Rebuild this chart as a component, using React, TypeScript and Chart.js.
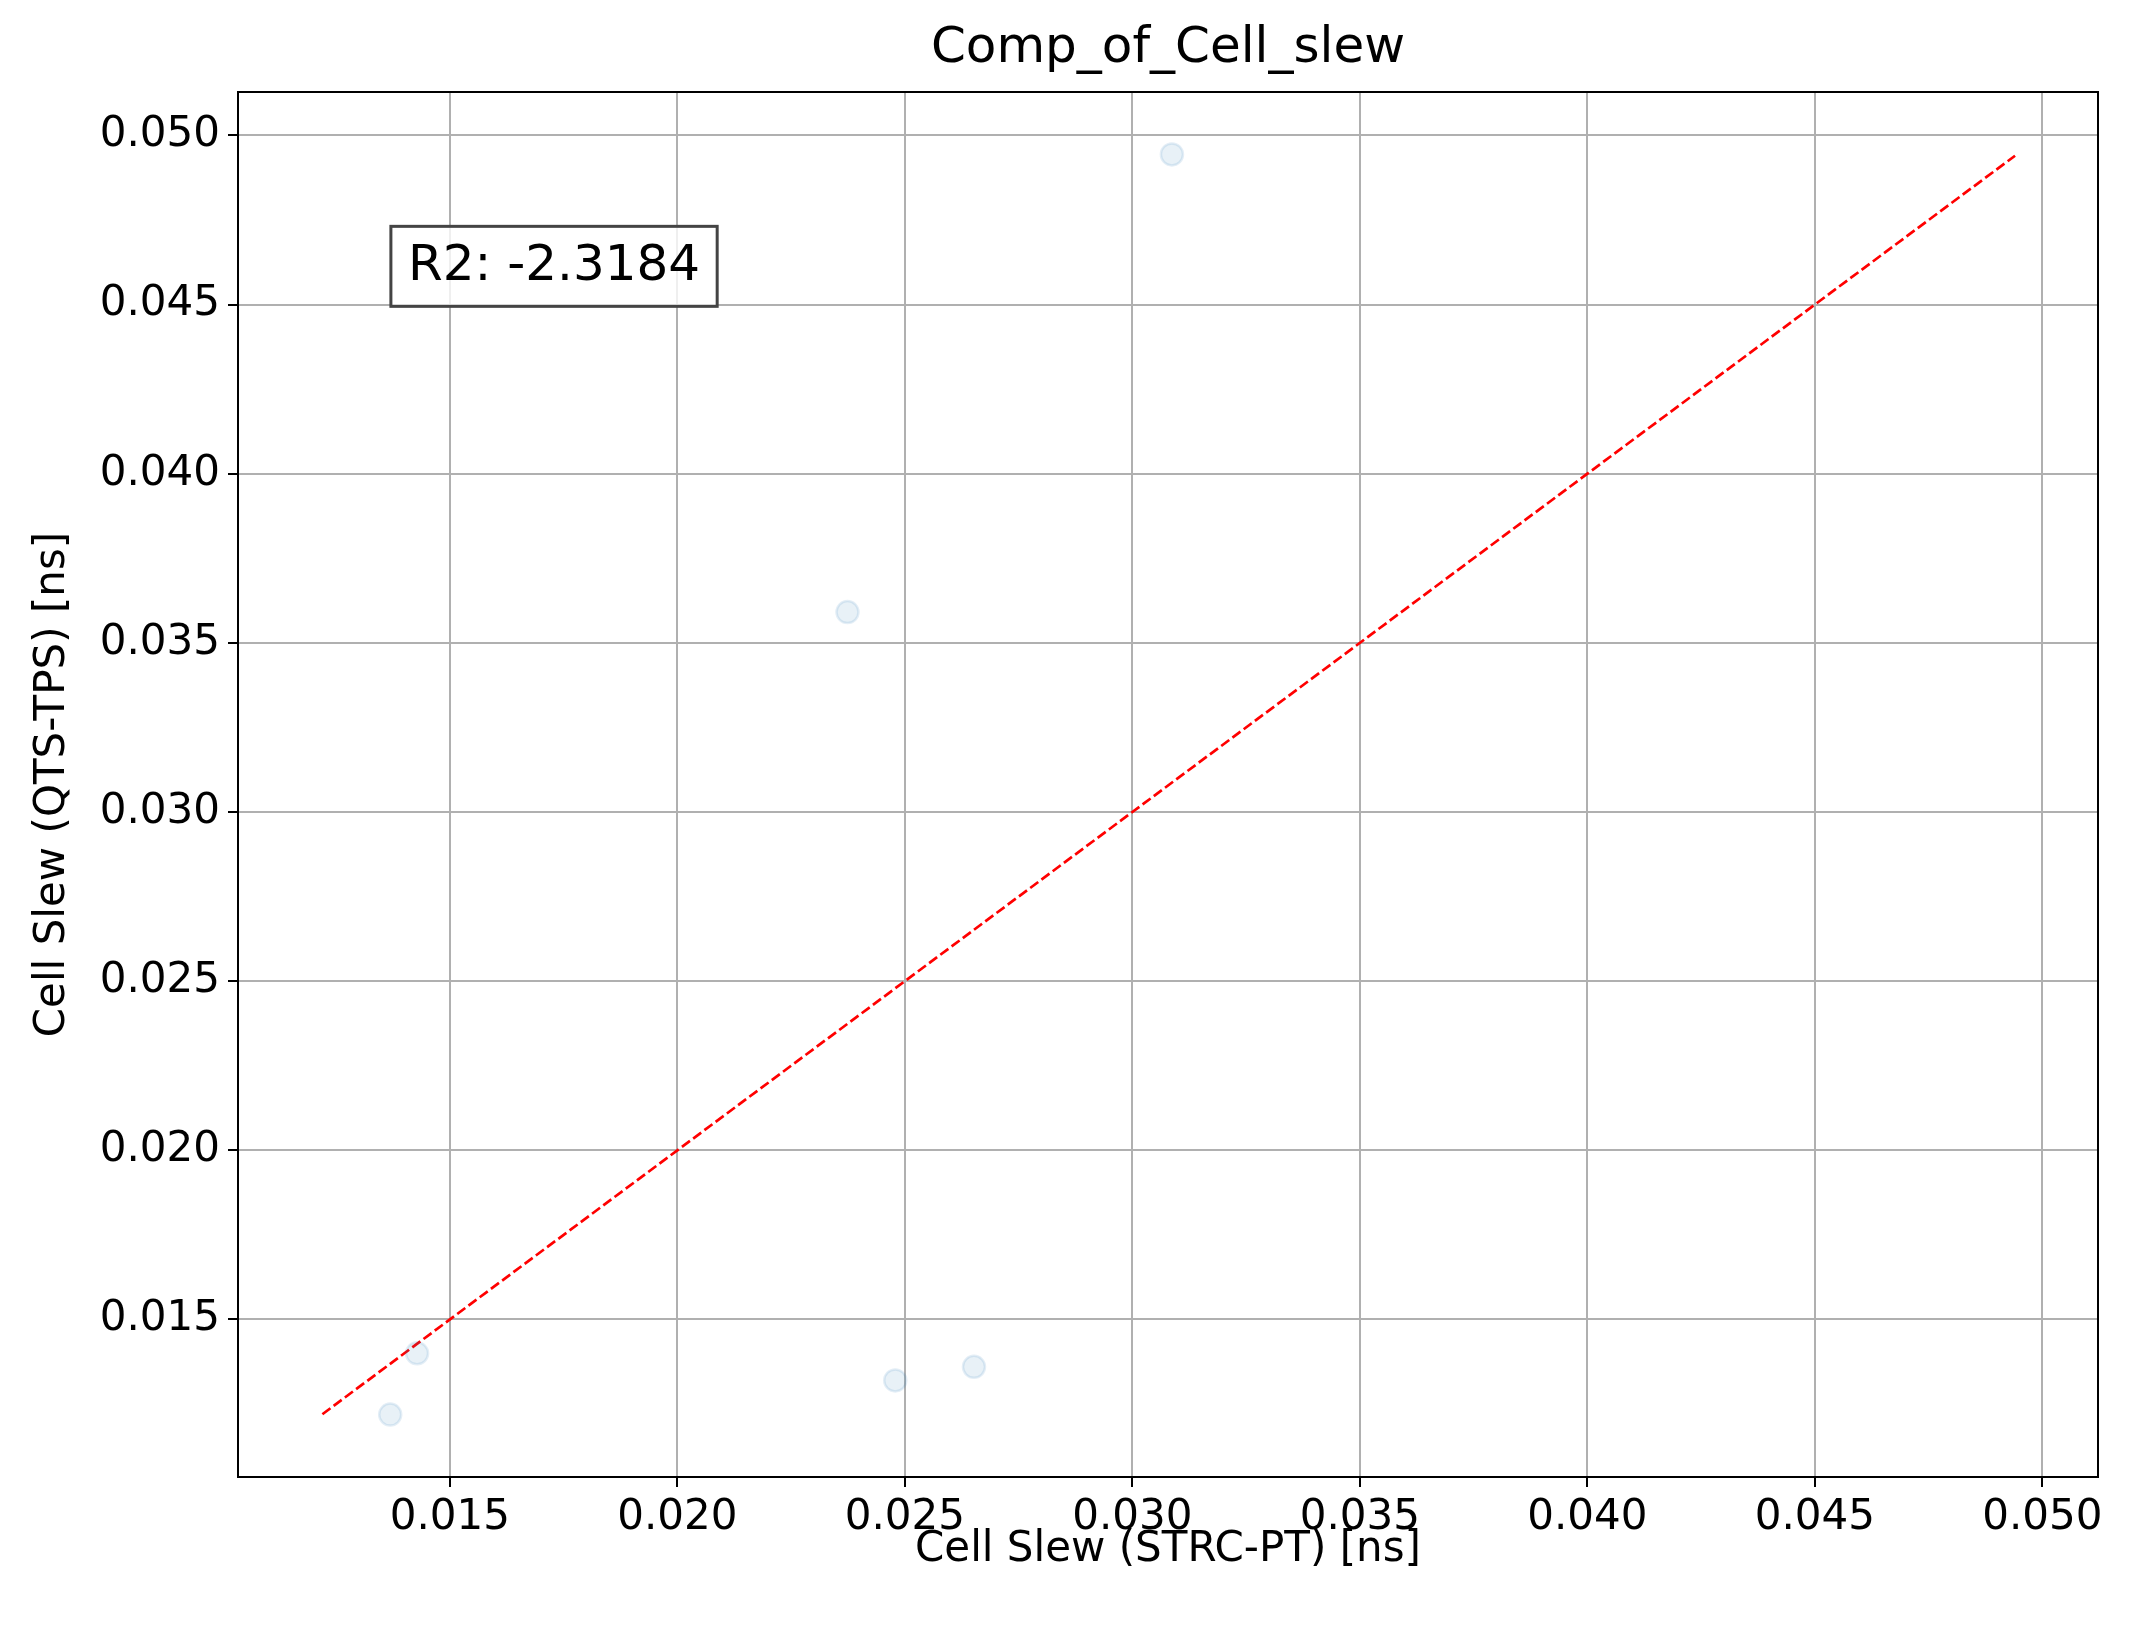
import React, { useEffect, useRef } from "react";
import { Chart, registerables } from "chart.js";
Chart.register(...registerables);

const pointsX = [0.01369, 0.01428, 0.02374, 0.02479, 0.02652, 0.03087];
const pointsY = [0.01219, 0.0140, 0.03591, 0.0132, 0.0136, 0.04944];
const refLine = [0.0122, 0.0494];
const xTicks = [0.015, 0.02, 0.025, 0.03, 0.035, 0.04, 0.045, 0.05];
const yTicks = [0.015, 0.02, 0.025, 0.03, 0.035, 0.04, 0.045, 0.05];
const titleText = "Comp_of_Cell_slew";
const r2Text = "R2: -2.3184";

const W = 2129, H = 1638;
const font = "DejaVu Sans";

export default function App() {
  const ref = useRef<HTMLCanvasElement>(null);
  useEffect(() => {
    document.body.style.margin = "0";
    const deco = {
      id: "deco",
      afterDraw(c: any) {
        const ctx = c.ctx, a = c.chartArea;
        ctx.save();
        ctx.strokeStyle = "#000";
        ctx.lineWidth = 2;
        ctx.strokeRect(a.left, a.top, a.right - a.left, a.bottom - a.top);
        ctx.fillStyle = "#000";
        ctx.font = `50px "${font}"`;
        ctx.textAlign = "center";
        ctx.textBaseline = "bottom";
        ctx.fillText(titleText, (a.left + a.right) / 2, a.top - 18);
        const bx = a.left + 0.0822 * (a.right - a.left);
        const by = a.top + 0.097 * (a.bottom - a.top);
        ctx.font = `50px "${font}"`;
        const tw = ctx.measureText(r2Text).width;
        const bw = tw + 34, bh = 80;
        ctx.fillStyle = "rgba(255,255,255,0.8)";
        ctx.fillRect(bx, by, bw, bh);
        ctx.strokeStyle = "#444";
        ctx.lineWidth = 3;
        ctx.strokeRect(bx, by, bw, bh);
        ctx.fillStyle = "#000";
        ctx.textAlign = "left";
        ctx.textBaseline = "middle";
        ctx.fillText(r2Text, bx + 17, by + bh / 2 + 1);
        ctx.restore();
      },
    };
    const tickFont = { family: font, size: 42 };
    const chart = new Chart(ref.current!, {
      type: "scatter",
      data: {
        datasets: [
          {
            data: pointsX.map((x, i) => ({ x, y: pointsY[i] })),
            backgroundColor: "rgba(31,119,180,0.1)",
            borderColor: "rgba(31,119,180,0.12)",
            borderWidth: 2.5,
            pointRadius: 11,
          },
          {
            data: refLine.map((v) => ({ x: v, y: v })),
            showLine: true,
            borderColor: "#ff0000",
            borderWidth: 2.7,
            borderDash: [10, 4],
            pointRadius: 0,
          },
        ],
      },
      options: {
        responsive: false,
        animation: false,
        devicePixelRatio: 1,
        layout: { padding: { top: 92, right: 31, left: 28, bottom: 63 } },
        plugins: { legend: { display: false }, tooltip: { enabled: false }, title: { display: false } },
        scales: {
          x: {
            type: "linear",
            min: 0.010345,
            max: 0.051223,
            afterBuildTicks: (s: any) => { s.ticks = xTicks.map((v) => ({ value: v })); },
            afterFit: (s: any) => { s.height = 98; },
            ticks: { color: "#000", font: tickFont, padding: 6, callback: (v: any) => Number(v).toFixed(3), maxRotation: 0 },
            grid: { color: "#b0b0b0", lineWidth: 2, tickLength: 10, tickColor: "#000" },
            border: { color: "#000", width: 2 },
            title: { display: true, text: "Cell Slew (STRC-PT) [ns]", color: "#000", font: tickFont, padding: 0 },
          },
          y: {
            type: "linear",
            min: 0.010344,
            max: 0.051284,
            afterBuildTicks: (s: any) => { s.ticks = yTicks.map((v) => ({ value: v })); },
            afterFit: (s: any) => { s.width = 210; },
            ticks: { color: "#000", font: tickFont, padding: 8, callback: (v: any) => Number(v).toFixed(3) },
            grid: { color: "#b0b0b0", lineWidth: 2, tickLength: 10, tickColor: "#000" },
            border: { color: "#000", width: 2 },
            title: { display: true, text: "Cell Slew (QTS-TPS) [ns]", color: "#000", font: tickFont, padding: 0 },
          },
        },
      },
      plugins: [deco],
    } as any);
    return () => chart.destroy();
  }, []);
  return <canvas ref={ref} width={W} height={H} style={{ display: "block", background: "#fff" }} />;
}
